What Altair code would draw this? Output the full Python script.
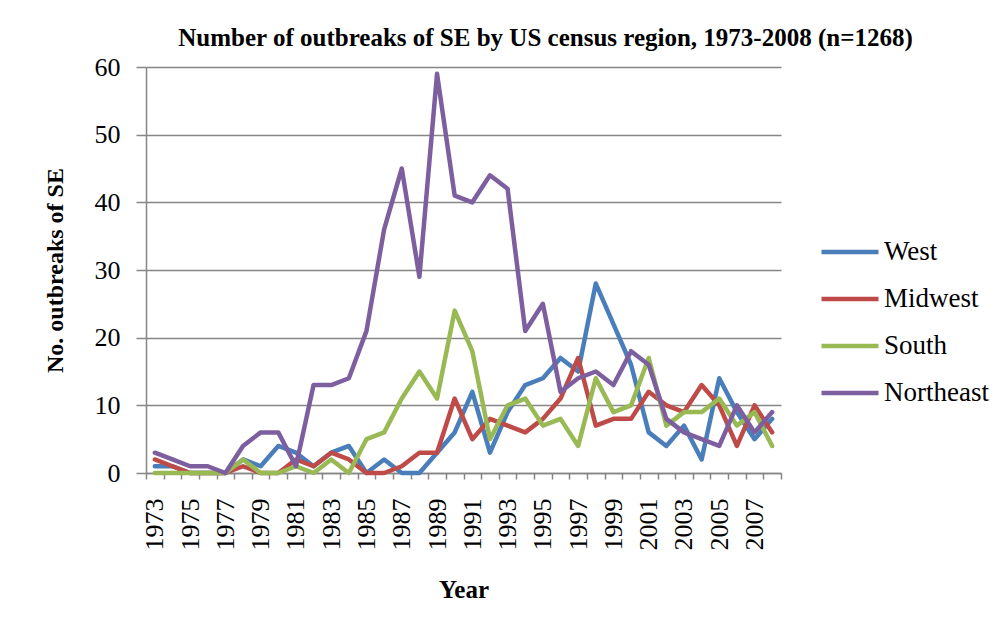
import altair as alt
import pandas as pd

YEARS = [1973, 1974, 1975, 1976, 1977, 1978, 1979, 1980, 1981, 1982,
         1983, 1984, 1985, 1986, 1987, 1988, 1989, 1990, 1991, 1992,
         1993, 1994, 1995, 1996, 1997, 1998, 1999, 2000, 2001, 2002,
         2003, 2004, 2005, 2006, 2007, 2008]

WEST = [1, 1, 0, 0, 0, 2, 1, 4, 3, 1, 3, 4, 0, 2, 0, 0, 3, 6, 12, 3,
        9, 13, 14, 17, 15, 28, 22, 16, 6, 4, 7, 2, 14, 9, 5, 8]
MIDWEST = [2, 1, 0, 0, 0, 1, 0, 0, 2, 1, 3, 2, 0, 0, 1, 3, 3, 11, 5, 8,
           7, 6, 8, 11, 17, 7, 8, 8, 12, 10, 9, 13, 10, 4, 10, 6]
SOUTH = [0, 0, 0, 0, 0, 2, 0, 0, 1, 0, 2, 0, 5, 6, 11, 15, 11, 24, 18, 5,
         10, 11, 7, 8, 4, 14, 9, 10, 17, 7, 9, 9, 11, 7, 9, 4]
NORTHEAST = [3, 2, 1, 1, 0, 4, 6, 6, 1, 13, 13, 14, 21, 36, 45, 29, 59, 41, 40, 44,
             42, 21, 25, 12, 14, 15, 13, 18, 16, 8, 6, 5, 4, 10, 6, 9]

REGIONS = ["West", "Midwest", "South", "Northeast"]
COLORS = ["#4A7EBB", "#BE4B48", "#98B954", "#7D5FA0"]
Y_TICKS = [0, 10, 20, 30, 40, 50, 60]

rows = []
for name, vals in zip(REGIONS, [WEST, MIDWEST, SOUTH, NORTHEAST]):
    for yr, v in zip(YEARS, vals):
        rows.append({"Year": str(yr), "Region": name, "Count": v})
df = pd.DataFrame(rows)

SERIF = "Liberation Serif"
GRAY = "#868686"

chart = alt.Chart(df).mark_line(
    strokeWidth=4.5, strokeJoin="round", strokeCap="round"
).encode(
    x=alt.X(
        "Year:O",
        sort=[str(y) for y in YEARS],
        scale=alt.Scale(type="band", paddingInner=0, paddingOuter=0),
        axis=alt.Axis(
            title="Year",
            labelAngle=270,
            labelExpr="toNumber(datum.value) % 2 == 1 ? datum.value : ''",
            labelOverlap=False,
            tickBand="extent",
            labelFont=SERIF, labelFontSize=26, labelColor="black",
            labelPadding=19,
            tickSize=6, tickColor=GRAY, tickWidth=1.5,
            domainColor=GRAY, domainWidth=1.5,
            grid=False,
            titleFont=SERIF, titleFontSize=25, titleFontWeight="bold",
            titleColor="black", titlePadding=27,
        ),
    ),
    y=alt.Y(
        "Count:Q",
        scale=alt.Scale(domain=[0, 60], nice=False),
        axis=alt.Axis(
            values=Y_TICKS,
            title="No. outbreaks of SE",
            labelFont=SERIF, labelFontSize=26, labelColor="black",
            labelPadding=16,
            tickSize=10, tickColor=GRAY, tickWidth=1.5,
            domainColor=GRAY, domainWidth=1.5,
            grid=True, gridColor=GRAY, gridWidth=1.5,
            titleFont=SERIF, titleFontSize=24, titleFontWeight="bold",
            titleColor="black", titlePadding=27,
        ),
    ),
    color=alt.Color(
        "Region:N",
        scale=alt.Scale(domain=REGIONS, range=COLORS),
        legend=alt.Legend(
            title=None,
            orient="none",
            legendX=673,
            legendY=170,
            symbolType="stroke",
            symbolSize=3249,
            symbolStrokeWidth=4.5,
            labelFont=SERIF, labelFontSize=27, labelColor="black",
            labelOffset=3,
            clipHeight=30,
            rowPadding=17,
            padding=0,
        ),
    ),
).properties(
    width=635,
    height=406,
    title=alt.Title(
        "Number of outbreaks of SE by US census region, 1973-2008 (n=1268)",
        font=SERIF, fontSize=25, fontWeight="bold", color="black",
        anchor="middle", dx=82, offset=3,
    ),
    autosize=alt.AutoSizeParams(type="none"),
    padding={"left": 138, "top": 59, "right": 214, "bottom": 150},
).configure_view(stroke=None)

chart.save("out.html", embed_options={"renderer": "svg", "actions": False})
